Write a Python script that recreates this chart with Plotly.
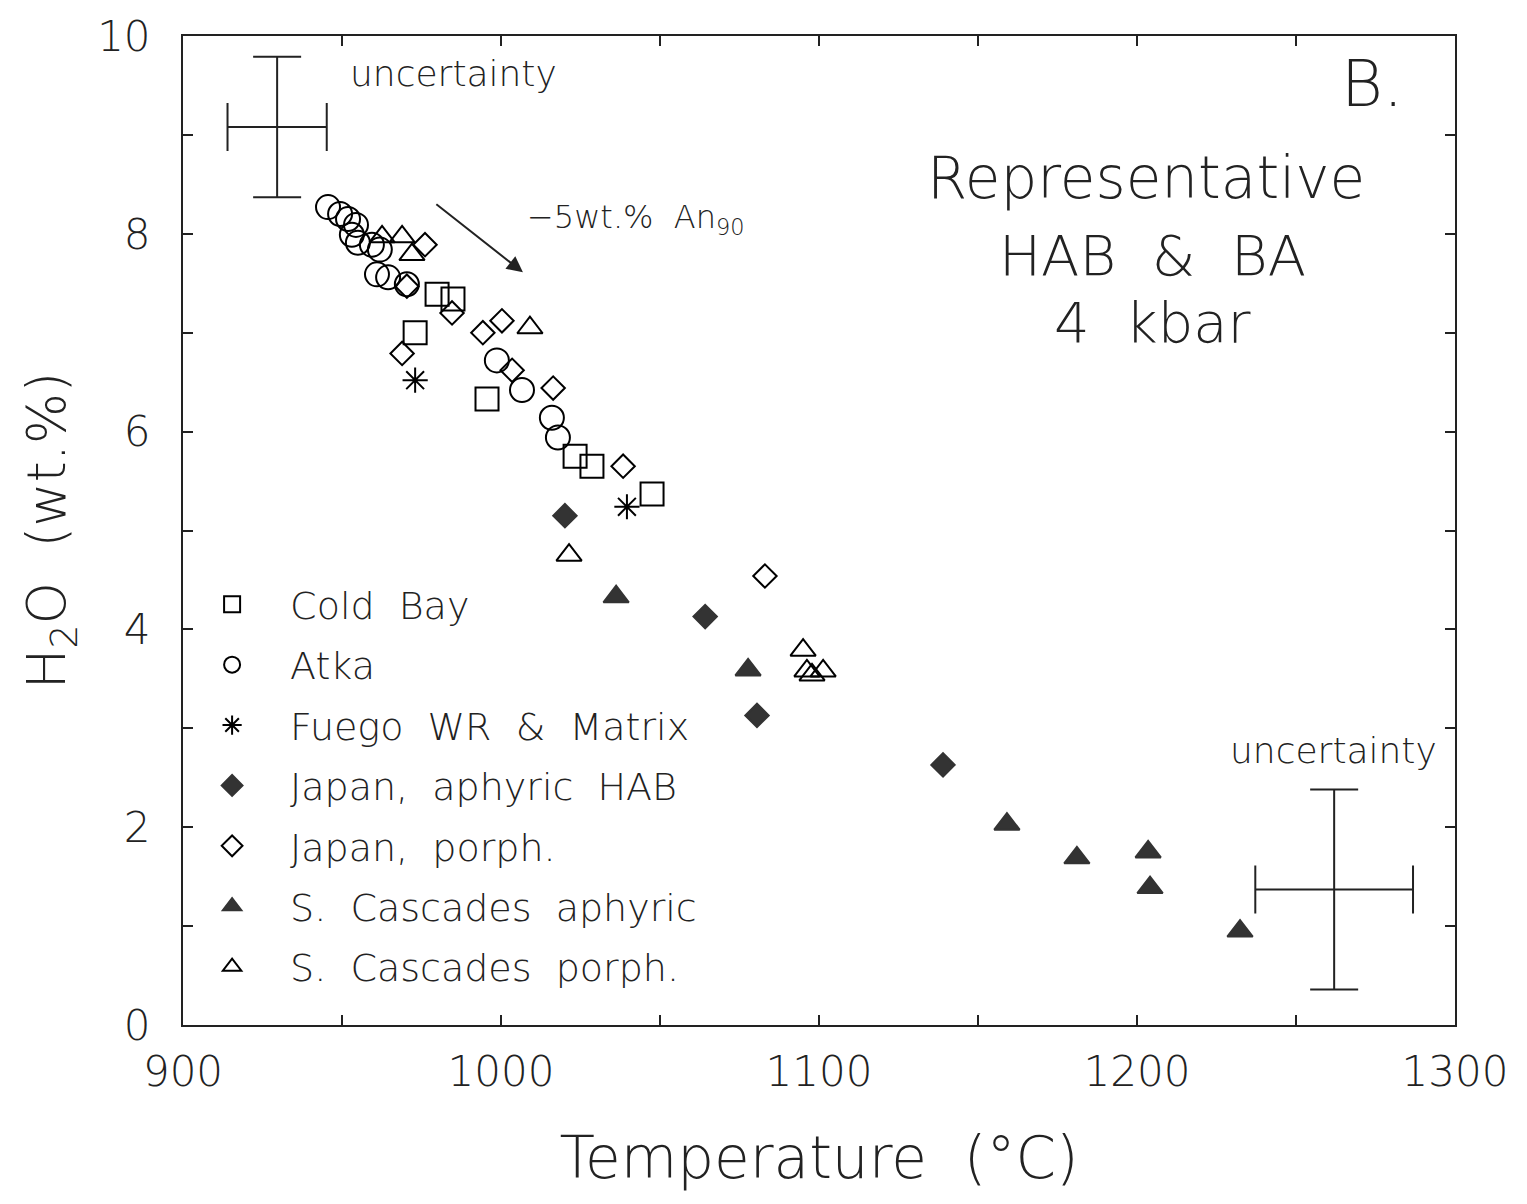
import plotly.graph_objects as go

FONT = "DejaVu Sans"
W = 200  # light weight to mimic thin plotter lettering

# ---- data (Temperature °C, H2O wt.%) ----
cold_bay_t = [979.9, 984.9, 973.0, 995.6, 1023.3, 1028.6, 1047.5]
cold_bay_h = [7.39, 7.34, 7.00, 6.33, 5.75, 5.65, 5.37]

atka_t = [945.6, 949.4, 951.9, 954.4, 953.1, 955.0, 959.4, 961.9, 961.0, 964.5, 970.4,
          998.7, 1006.6, 1016.0, 1017.9]
atka_h = [8.27, 8.20, 8.15, 8.09, 7.99, 7.91, 7.89, 7.84, 7.59, 7.56, 7.49,
          6.72, 6.42, 6.14, 5.94]

fuego_t = [973.0, 1039.6]
fuego_h = [6.52, 5.24]

japan_aph_t = [1020.1, 1064.2, 1080.5, 1139.0]
japan_aph_h = [5.15, 4.13, 3.13, 2.63]

japan_por_t = [976.1, 970.4, 984.6, 968.9, 994.3, 1000.3, 1003.5, 1016.4, 1038.4, 1083.0]
japan_por_h = [7.89, 7.47, 7.20, 6.79, 7.00, 7.12, 6.62, 6.44, 5.65, 4.54]

casc_aph_t = [1036.2, 1077.7, 1159.1, 1181.1, 1203.5, 1204.1, 1232.4]
casc_aph_h = [4.33, 3.59, 2.03, 1.69, 1.75, 1.39, 0.95]

casc_por_t = [962.6, 968.9, 972.0, 1009.1, 1021.4, 1095.0, 1096.2, 1097.8, 1101.3]
casc_por_h = [7.97, 7.97, 7.79, 7.05, 4.75, 3.79, 3.58, 3.54, 3.58]

# uncertainty crosses: centre and half-widths
unc_t = [929.6, 1262.0]
unc_h = [9.08, 1.37]
unc_dt = [15.6, 24.8]
unc_dh = [0.71, 1.01]

x_ticks = [900, 1000, 1100, 1200, 1300]
y_ticks = [0, 2, 4, 6, 8, 10]

series = [
    ("Cold\u00a0 Bay", cold_bay_t, cold_bay_h, "square-open", 23, "black"),
    ("Atka", atka_t, atka_h, "circle-open", 24, "black"),
    ("Fuego\u00a0 WR\u00a0 &\u00a0 Matrix", fuego_t, fuego_h, "asterisk-open", 21, "black"),
    ("Japan,\u00a0 aphyric\u00a0 HAB", japan_aph_t, japan_aph_h, "diamond", 18, "#333333"),
    ("Japan,\u00a0 porph.", japan_por_t, japan_por_h, "diamond-open", 18, "black"),
    ("S.\u00a0 Cascades\u00a0 aphyric", casc_aph_t, casc_aph_h, "triangle-up", 22, "#333333"),
    ("S.\u00a0 Cascades\u00a0 porph.", casc_por_t, casc_por_h, "triangle-up-open", 22, "black"),
]

fig = go.Figure()
for i, (name, xs, ys, sym, sz, col) in enumerate(series):
    fig.add_trace(go.Scatter(
        x=xs, y=ys, mode="markers", name=name, legendgroup=str(i),
        marker=dict(symbol=sym, size=sz, color=col,
                    line=dict(width=2, color=col)),
    ))

fig.add_trace(go.Scatter(
    x=unc_t, y=unc_h, mode="markers", showlegend=False,
    marker=dict(size=1, opacity=0),
    error_x=dict(type="data", array=unc_dt, color="#222", thickness=2, width=24),
    error_y=dict(type="data", array=unc_dh, color="#222", thickness=2, width=24),
))

tf = dict(family=FONT, size=42, color="#222", weight=W)

fig.update_layout(
    width=1527, height=1204,
    margin=dict(l=183, r=72, t=28, b=179),
    paper_bgcolor="white", plot_bgcolor="white",
    font=dict(family=FONT, color="#222", weight=W),
    showlegend=True,
    legend=dict(x=-0.007, y=0.457, xanchor="left", yanchor="top",
                font=dict(family=FONT, size=38, color="#222", weight=W),
                bgcolor="rgba(0,0,0,0)", tracegroupgap=8,
                itemwidth=106, traceorder="grouped"),
    xaxis=dict(range=[900, 1300], tickvals=x_ticks, ticks="inside", ticklen=10,
               tickwidth=2, tickcolor="#222", showline=True, linecolor="#222",
               linewidth=2, mirror="allticks", showgrid=False, zeroline=False,
               tickfont=tf, ticklabelstandoff=9,
               minor=dict(dtick=50, ticks="inside", ticklen=10, tickwidth=2,
                          tickcolor="#222", showgrid=False),
               title=dict(text="Temperature\u00a0 (\u00b0C)",
                          font=dict(family=FONT, size=58, color="#222", weight=W),
                          standoff=42)),
    yaxis=dict(range=[0, 10], tickvals=y_ticks, ticks="inside", ticklen=10,
               tickwidth=2, tickcolor="#222", showline=True, linecolor="#222",
               linewidth=2, mirror="allticks", showgrid=False, zeroline=False,
               tickfont=tf, ticklabelstandoff=22,
               minor=dict(dtick=1, ticks="inside", ticklen=10, tickwidth=2,
                          tickcolor="#222", showgrid=False),
               title=dict(text="H<sub>2</sub>O\u00a0 (wt.%)",
                          font=dict(family=FONT, size=54, color="#222", weight=W),
                          standoff=14)),
)

def af(size):
    return dict(family=FONT, size=size, color="#222", weight=W)

fig.add_annotation(x=951.9, y=9.62, text="uncertainty", showarrow=False,
                   xanchor="left", font=af(36))
fig.add_annotation(x=1228.6, y=2.78, text="uncertainty", showarrow=False,
                   xanchor="left", font=af(36))
fig.add_annotation(x=1273.9, y=9.51, text="B.", showarrow=False, font=af(64))
fig.add_annotation(x=1202.8, y=8.56, text="Representative", showarrow=False,
                   font=af(58))
fig.add_annotation(x=1205, y=7.78, text="HAB\u00a0 &\u00a0 BA", showarrow=False,
                   font=af(56))
fig.add_annotation(x=1205, y=7.10, text="4\u00a0 kbar", showarrow=False,
                   font=af(56))
fig.add_annotation(x=1007.5, y=8.15, text="\u22125wt.%\u00a0 An<sub>90</sub>",
                   showarrow=False, xanchor="left", font=af(32))
fig.add_annotation(x=1006.9, y=7.61, ax=979.2, ay=8.31, axref="x", ayref="y",
                   xref="x", yref="y", text="", showarrow=True, arrowhead=2,
                   arrowsize=1.6, arrowwidth=2, arrowcolor="#222")

fig.write_html("out.html")
